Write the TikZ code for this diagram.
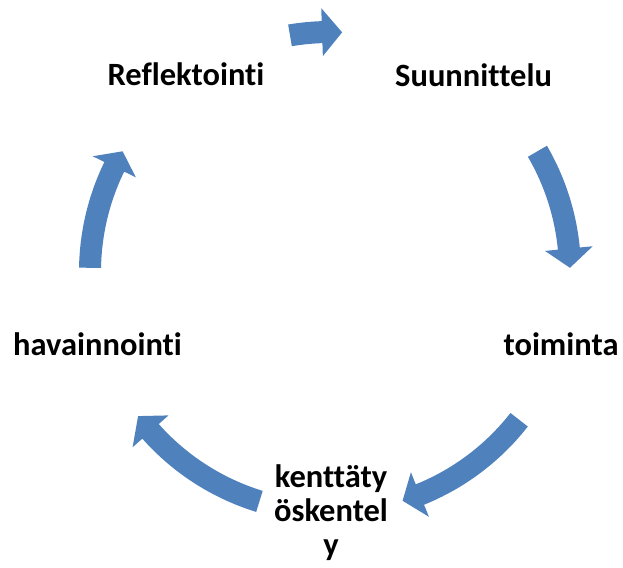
\documentclass[tikz,border=0pt]{standalone}
\usepackage{fontspec}
\setmainfont[Ligatures=NoCommon]{Carlito}
\tikzset{
  lbl/.style={inner sep=0pt, anchor=base, font=\bfseries\fontsize{32.5}{34}\selectfont, text=black},
  arrowfill/.style={fill=arrowblue, draw=none},
}
\definecolor{arrowblue}{HTML}{4F81BD}
\newcommand\cyclearrow[3]{%
  \fill[arrowfill] ([shift={(C)}]#1:229pt) arc[start angle=#1, end angle=#2, radius=229pt]
    -- ([shift={(C)}]#2:216pt) -- ([shift={(C)}]#3:240pt) -- ([shift={(C)}]#2:264pt)
    -- ([shift={(C)}]#2:251pt) arc[start angle=#2, end angle=#1, radius=251pt] -- cycle;}
\begin{document}
\begin{tikzpicture}
\useasboundingbox (0,-567pt) rectangle (623pt,0);
\coordinate (C) at (330pt,-272pt);
\node[lbl] (refl) at (186pt,-85.5pt) {Reflektointi};
\node[lbl] (suun) at (473.5pt,-86.5pt) {Suunnittelu};
\node[lbl] (toim) at (561pt,-355pt) {toiminta};
\node[lbl] (hav) at (97.5pt,-355pt) {havainnointi};
\node[lbl, align=center] (kent) at (331pt,-555pt) {kenttäty\\öskentel\\y};
\cyclearrow{99.6}{91.9}{87.1}
\cyclearrow{30.2}{5.6}{1}
\cyclearrow{-38}{-68}{-72.4}
\cyclearrow{252.9}{221.6}{216.9}
\cyclearrow{179}{154}{149.8}
\end{tikzpicture}
\end{document}
